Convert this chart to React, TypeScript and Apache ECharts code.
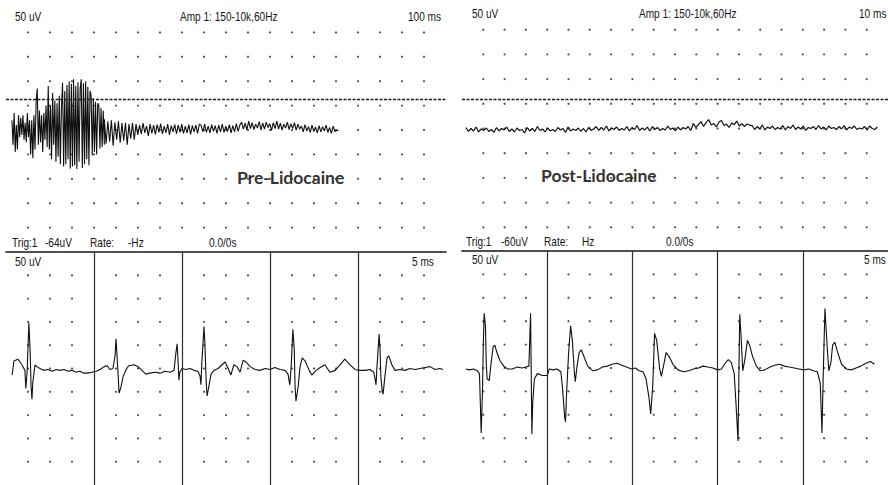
import React, { useEffect, useRef } from "react";
import * as echarts from "echarts";

// Display scale: ±5 divisions of 50 µV, 20 divisions per sweep
const AMP_RANGE_UV = 250;
const DIVISIONS = 20;
const PRE_FREE_MS_PER_DIV = 100;
const POST_FREE_MS_PER_DIV = 10;
const TRIG_MS_PER_DIV = 5;

// Trigger levels (EMG convention: negative is drawn upward)
const preTrigUv = -64;
const postTrigUv = -60;

// Frame boundaries of the triggered sweeps (ms)
const frameMarksMs = [20, 40, 60, 80];

// Grid rows (µV) and dot columns (divisions)
const ampRowsUv = [-200, -150, -100, -50, 0, 50, 100, 150, 200];
const freeColsDiv = [1, 2, 3, 4, 5, 6, 7, 8, 9, 10, 11, 12, 13, 14, 15, 16, 17, 18, 19];
const trigColsDiv = [1, 2, 3, 5, 6, 7, 9, 10, 11, 13, 14, 15, 17, 18, 19];

// Pre-lidocaine free-running trace: insertional burst ...
const preBurstStartMs = 27;
const preBurstStepMs = 5;
const preBurstUv = [
  -20, 30, -35, 45, -10, 40, -30, 15,
  -25, 10, -30, 20, -15, 25, -35, 15, -20,
  50, -20, 58, -30, 40, -60, -85,
  30, -40, 25, -30, 45, -35, 20, -50, 35,
  -90, 40, -50, 60, -76, 30,
  -60, 65, -55, 55, -70, 70, -45,
  -97, 75, -80, 70, -92, 60,
  -100, 79, -95, 75, -104, 72, -90, 80, -98, 65, -85,
  -104, 78, -96, 70, -100, 60, -88, 72, -80,
  -70, 52, -65, 45, -58, 50, -55,
  -50, 38, -45, 35, -40, 30,
];
// ... followed by the decaying tail
const preTailStartMs = 447;
const preTailStepMs = 8;
const preTailUv = [
  -22, 28, -18, 24, -20, 32, -16, 20, -18, 26, -14, 22, -15, 30, -12, 18, -14, 20,
  -12, 10, -10, 8, -14, 6, -8, 12, -12, 7, -10, 9, -11, 5, -13, 8, -8, 6, -12, 10, -9, 4, -11, 8, -10, 5, -12, 7, -8, 6, -11, 9, -9, 4, -10, 7, -12,
  -10, 4, -12, 5, -8, 6, -11, 3, -9, 7, -10, 4, -12, 5, -8, 3, -11, 6, -9, 4, -13, 3, -10,
  -16, -2, -14, 0, -18, -3, -15, -1, -12, -4, -17, 0, -14, -2, -16, -5, -13, 1, -15, -3, -18, -2, -14, 0, -12, -4, -16, -1, -13, -3, -15, 0, -12, -2,
  -8, 4, -11, 2, -7, 5, -10, 3, -6, 6, -9, 4, -7, 2, -10, 5, -5, 7, -8, 3, 0, 2,
];

// Post-lidocaine free-running trace: quiet baseline
const postFreeStartMs = 1.8;
const postFreeStepMs = 1.2;
const postFreeUv = [
  -2, 6, 0, 5, -3, 7, 1, 4, -1, 6, 2, 8, -2, 5, 0, 3, -3, 6, 1, 7, -1, 4, 2, 9, -2, 5, 0, 6, -4, 4, 1, 7, -1, 5, 2, 6, -2, 3, 0, 8, -3, 5, 1, 4, -1, 6, 0, 7, -2, 4, 1,
  -4, 4, -2, 3, -5, 5, -1, 2, -3, 4, 0, 3, -4, 5, -2, 2, -6, 4, -1, 3, -3, 5, -4, 2, -2, 4, 0, 3, -5, 2, -1, 5, -3, 3, -2, 1, -4, 4,
  -10, -2, -8, -14, -4, -12, -18, -7, -10, -3, -13, -16, -6, -9, -2, -11, -8, -15, -5, -10, -4, -9, -7,
  -6, 2, -4, 1, -7, 3, -3, 0, -5, 2, -2, 1, -6, 3, -4, 0, -7, 2, -3, 1, -5, 4, -2, 0, -4, 2, -6, 1, -3, 3, -5, 0, -2, 2, -4, 1, -6, 3, -3, 0, -5, 2, -1, 1, -4, 3, -5, 0, 2, -3,
];

// Triggered sweeps: [time ms, amplitude µV]
const preSweep: [number, number][] = [
  [1.4, 14], [1.8, -16], [2.7, -20], [3.6, -8], [4.3, 4], [4.5, 43], [4.8, 8], [5.2, -98], [5.5, -33], [5.7, 39], [5.9, 66], [6.1, 29], [6.6, -8], [7.0, -4],
  [7.7, 0], [8.6, 4], [9.5, 2], [10.5, 6], [11.4, 2], [12.3, 4], [13.2, 2], [14.1, 6], [15.0, 4], [15.9, 8], [16.8, 6], [17.7, 10], [18.6, 10], [19.5, 8],
  [20.5, 6], [21.4, 2], [22.3, -4], [23.0, -6], [23.6, 2], [24.3, 0], [24.8, -29], [25.0, -64], [25.2, -33], [25.5, 18], [25.7, 53], [26.1, 41], [26.6, 18],
  [27.3, 2], [27.9, -6], [29.1, -8], [30.0, -4], [30.9, 4], [31.8, 12], [32.7, 10], [33.9, 8], [35.0, 10], [36.1, 6], [37.3, 8], [38.2, 4],
  [38.6, -33], [38.9, -53], [39.1, -16], [39.3, 25], [39.5, 8], [40.0, 0], [40.9, 2], [41.8, 0], [42.7, 4], [43.6, 6],
  [44.1, 16], [44.3, 35], [44.5, -12], [45.0, -90], [45.2, -53], [45.5, 29], [45.7, 59], [46.1, 39], [46.6, 12], [47.3, 4], [48.2, 0],
  [49.1, -8], [49.8, -14], [50.5, 0], [51.1, 14], [51.8, -8], [52.5, -4], [53.2, 8], [53.9, -18], [54.5, -14], [55.5, -4], [56.6, 2],
  [57.7, 4], [58.9, 0], [60.0, 2], [61.1, -2], [62.3, 2], [63.4, 4], [64.1, 12], [64.5, 35], [64.8, -2], [65.2, -84], [65.5, -43],
  [65.7, 39], [65.9, 70], [66.4, 39], [66.8, -2], [67.3, -23], [68.0, -16], [68.9, 4], [69.5, 14], [70.5, 4], [71.4, -2], [72.5, -8],
  [73.6, 8], [74.8, 4], [75.9, -8], [77.0, -20], [78.2, -8], [79.3, 2], [80.5, 4], [81.6, 4], [82.7, 2], [83.6, 8], [84.1, 35],
  [84.3, -2], [84.8, -74], [85.0, -43], [85.2, 18], [85.5, 49], [85.7, 55], [86.1, 18], [86.6, -23], [87.0, -27], [87.7, -8],
  [88.4, 4], [89.5, 2], [90.7, 4], [91.8, 0], [93.0, 2], [94.1, 0], [95.2, -2], [96.4, -4], [97.5, 2], [98.6, 0], [99.3, 2],
];

const postSweep: [number, number][] = [
  [0.9, 2], [1.8, 4], [2.7, 2], [3.6, 6], [4.1, 12], [4.3, 74], [4.5, 139], [4.8, 53], [5.0, -49], [5.2, -117], [5.5, -90], [5.7, -8],
  [5.9, 23], [6.4, 27], [6.8, -8], [7.3, -45], [7.7, -49], [8.2, -33], [8.9, -16], [9.8, -4], [10.7, 2], [11.8, 2], [13.0, -2], [14.1, 0],
  [15.0, -2], [15.7, -4], [15.9, -59], [16.1, -117], [16.25, 12], [16.4, 141], [16.6, 74], [17.0, 23], [17.7, 12], [18.9, 16], [20.0, 16],
  [20.5, 2], [21.4, 4], [22.3, 2], [23.2, 8], [23.6, 43], [24.1, 105], [24.3, 115], [24.5, 64], [25.0, -29], [25.5, -90], [25.9, -59],
  [26.4, 12], [26.6, 29], [27.0, -4], [27.5, -33], [28.0, -39], [28.6, -25], [29.5, -4], [30.7, 6], [31.8, 4], [33.0, -2], [34.1, -4],
  [35.2, -8], [36.4, -10], [37.5, -6], [38.6, -2], [39.8, 2], [40.7, 0], [41.6, 6], [42.5, 8], [43.2, 23], [43.9, 64], [44.3, 98],
  [44.8, 33], [45.2, -74], [45.7, -59], [46.4, 2], [46.8, 18], [47.3, -4], [47.9, -33], [48.6, -25], [49.5, -8], [50.7, 4], [52.0, 8],
  [53.2, 6], [54.3, 2], [55.5, 0], [56.6, -4], [57.7, -2], [58.9, 0], [60.0, 4], [60.9, 2], [61.6, -8], [62.5, -18], [63.2, -12],
  [63.9, 12], [64.3, 74], [64.8, 156], [65.0, 12], [65.2, -115], [65.5, -70], [65.9, 6], [66.4, -18], [67.0, -59], [67.5, -49],
  [68.2, -25], [69.1, -4], [70.0, 6], [71.1, 4], [72.3, -2], [73.4, -6], [74.5, -8], [75.7, -4], [76.8, -2], [78.0, 0], [79.1, 2],
  [80.2, 4], [81.4, 2], [82.5, 6], [83.4, 8], [84.1, 33], [84.5, 139], [84.8, 12], [85.2, -127], [85.7, -49], [86.1, 6], [86.6, -12],
  [87.0, -49], [87.5, -55], [88.2, -33], [89.1, -8], [90.2, 2], [91.4, 4], [92.5, 0], [93.6, -4], [94.8, -10], [95.9, -14], [96.8, -8],
];

const INK = "#141414";
const LABEL_FAMILY = "'Liberation Sans', Arial, sans-serif";

function sampled(startMs: number, stepMs: number, values: number[]): [number, number][] {
  return values.map((v, i) => [startMs + i * stepMs, v]);
}

function dotLattice(colsDiv: number[], msPerDiv: number, rows: number[]): [number, number][] {
  const pts: [number, number][] = [];
  colsDiv.forEach((c) => rows.forEach((r) => pts.push([c * msPerDiv, r])));
  return pts;
}

function label(text: string, x: number, y: number) {
  return {
    type: "text",
    x,
    y,
    scaleX: 0.84,
    silent: true,
    z: 20,
    style: { text, fill: INK, fontSize: 12, fontFamily: LABEL_FAMILY, verticalAlign: "middle" },
  };
}

function caption(text: string, x: number, y: number) {
  return {
    type: "text",
    x,
    y,
    silent: true,
    z: 20,
    style: {
      text,
      fill: "#333",
      fontSize: 17.5,
      fontWeight: "bold",
      fontFamily: "Lato, 'Open Sans', sans-serif",
      verticalAlign: "middle",
    },
  };
}

export default function App() {
  const ref = useRef<HTMLDivElement>(null);

  useEffect(() => {
    if (!ref.current) return;
    const chart = echarts.init(ref.current, undefined, { renderer: "svg" });

    const hiddenX = (gridIndex: number, max: number) => ({ type: "value", gridIndex, min: 0, max, show: false });
    const frameX = (gridIndex: number) => ({
      type: "value",
      gridIndex,
      min: 0,
      max: DIVISIONS * TRIG_MS_PER_DIV,
      position: "top",
      axisLine: { show: true, onZero: false, lineStyle: { color: INK, width: 1.6 } },
      axisTick: { show: false },
      axisLabel: { show: false },
      splitLine: { show: false },
    });
    const ampY = (gridIndex: number) => ({
      type: "value",
      gridIndex,
      min: -AMP_RANGE_UV,
      max: AMP_RANGE_UV,
      inverse: true,
      show: false,
    });

    const dots = (idx: number, cols: number[], msPerDiv: number) => ({
      type: "scatter",
      xAxisIndex: idx,
      yAxisIndex: idx,
      data: dotLattice(cols, msPerDiv, ampRowsUv),
      symbol: "circle",
      symbolSize: 2.2,
      itemStyle: { color: "#262626" },
      silent: true,
      z: 1,
    });

    const trace = (idx: number, data: [number, number][], width: number, markLine: any) => ({
      type: "line",
      xAxisIndex: idx,
      yAxisIndex: idx,
      data,
      showSymbol: false,
      symbol: "none",
      lineStyle: { color: "#101010", width },
      silent: true,
      z: 3,
      markLine,
    });

    const trigLine = (uv: number) => ({
      silent: true,
      symbol: ["none", "none"],
      label: { show: false },
      lineStyle: { color: "#1c1c1c", width: 1.4, type: [3, 1.5] },
      data: [{ yAxis: uv }],
    });

    const frameLines = {
      silent: true,
      symbol: ["none", "none"],
      label: { show: false },
      lineStyle: { color: "#2c2c2c", width: 1.2, type: "solid" },
      data: frameMarksMs.map((ms) => ({ xAxis: ms })),
    };

    chart.setOption({
      animation: false,
      backgroundColor: "#ffffff",
      grid: [
        { left: 6, top: 8, width: 440, height: 244 },
        { left: 462, top: 5, width: 440, height: 247 },
        { left: 6, top: 252, width: 440, height: 244 },
        { left: 462, top: 251, width: 440, height: 244 },
      ],
      xAxis: [
        hiddenX(0, DIVISIONS * PRE_FREE_MS_PER_DIV),
        hiddenX(1, DIVISIONS * POST_FREE_MS_PER_DIV),
        frameX(2),
        frameX(3),
      ],
      yAxis: [ampY(0), ampY(1), ampY(2), ampY(3)],
      series: [
        dots(0, freeColsDiv, PRE_FREE_MS_PER_DIV),
        trace(
          0,
          [...sampled(preBurstStartMs, preBurstStepMs, preBurstUv), ...sampled(preTailStartMs, preTailStepMs, preTailUv)],
          1.1,
          trigLine(preTrigUv)
        ),
        dots(1, freeColsDiv, POST_FREE_MS_PER_DIV),
        trace(1, sampled(postFreeStartMs, postFreeStepMs, postFreeUv), 1.2, trigLine(postTrigUv)),
        dots(2, trigColsDiv, TRIG_MS_PER_DIV),
        trace(2, preSweep, 1.1, frameLines),
        dots(3, trigColsDiv, TRIG_MS_PER_DIV),
        trace(3, postSweep, 1.1, frameLines),
      ],
      graphic: [
        label("50 uV", 15, 17),
        label("Amp 1: 150-10k,60Hz", 180, 17),
        label(`${PRE_FREE_MS_PER_DIV} ms`, 408, 17),
        label("50 uV", 472, 14),
        label("Amp 1: 150-10k,60Hz", 639, 14),
        label(`${POST_FREE_MS_PER_DIV} ms`, 859, 14),
        label("Trig:1", 12, 243),
        label(`${preTrigUv}uV`, 45, 243),
        label("Rate:", 90, 243),
        label("-Hz", 128, 243),
        label("0.0/0s", 209, 243),
        label("Trig:1", 466, 242),
        label(`${postTrigUv}uV`, 501, 242),
        label("Rate:", 544, 242),
        label("Hz", 582, 242),
        label("0.0/0s", 666, 242),
        label("50 uV", 15, 262),
        label(`${TRIG_MS_PER_DIV} ms`, 412, 262),
        label("50 uV", 472, 260),
        label(`${TRIG_MS_PER_DIV} ms`, 864, 260),
        caption("Pre-Lidocaine", 237, 177),
        caption("Post-Lidocaine", 541, 175),
      ],
    });

    return () => chart.dispose();
  }, []);

  return (
    <div
      ref={ref}
      style={{ position: "fixed", left: 0, top: 0, width: 888, height: 485, background: "#fff" }}
    />
  );
}
